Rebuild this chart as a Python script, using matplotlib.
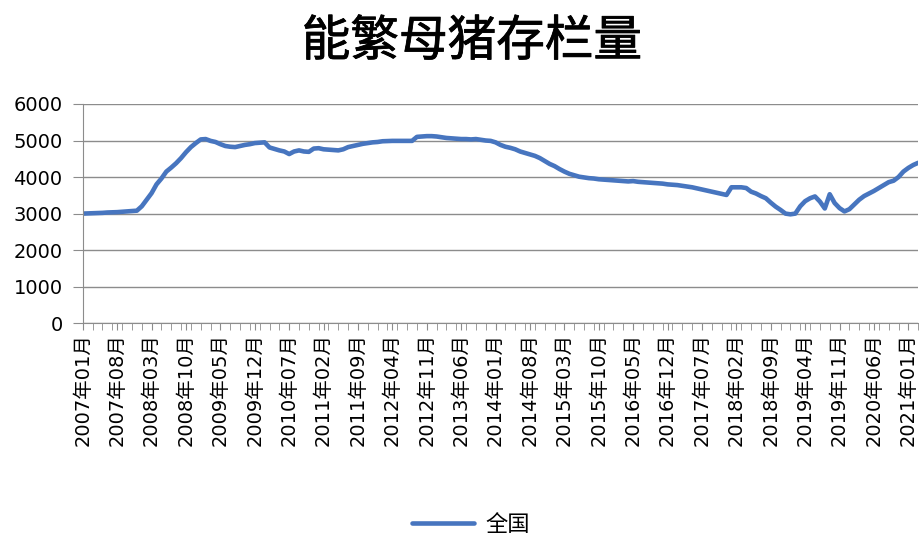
import matplotlib.pyplot as plt
import matplotlib.patheffects as pe
from matplotlib.ticker import MultipleLocator

plt.rcParams['font.family'] = ['DejaVu Sans', 'Noto Sans CJK SC']

# 月份标签 2007年01月 ... 2021年03月
years = list(range(2007, 2022))
months = [f'{y}年{m:02d}月' for y in years for m in range(1, 13)][:171]

# 能繁母猪存栏量(全国), 按年分组
v2007 = [3000, 3005, 3010, 3015, 3020, 3030, 3035, 3040, 3050, 3060, 3070, 3080]
v2008 = [3200, 3380, 3560, 3800, 3960, 4150, 4260, 4380, 4520, 4680, 4820, 4930]
v2009 = [5030, 5040, 4990, 4960, 4900, 4850, 4830, 4820, 4850, 4880, 4900, 4930]
v2010 = [4940, 4950, 4810, 4770, 4730, 4700, 4630, 4700, 4730, 4700, 4690, 4780]
v2011 = [4790, 4760, 4750, 4740, 4730, 4760, 4820, 4850, 4880, 4910, 4930, 4950]
v2012 = [4960, 4980, 4985, 4990, 4990, 4990, 4990, 4990, 5100, 5110, 5120, 5120]
v2013 = [5110, 5090, 5070, 5060, 5050, 5040, 5040, 5030, 5040, 5020, 5000, 4990]
v2014 = [4950, 4880, 4830, 4800, 4760, 4700, 4660, 4620, 4580, 4520, 4440, 4360]
v2015 = [4300, 4220, 4150, 4090, 4050, 4010, 3990, 3970, 3960, 3940, 3930, 3920]
v2016 = [3910, 3900, 3890, 3880, 3890, 3870, 3860, 3850, 3840, 3830, 3820, 3800]
v2017 = [3790, 3780, 3760, 3740, 3720, 3690, 3660, 3630, 3600, 3570, 3540, 3510]
v2018 = [3720, 3720, 3720, 3700, 3600, 3550, 3480, 3420, 3300, 3190, 3100, 3000]
v2019 = [2980, 3000, 3200, 3340, 3420, 3470, 3330, 3140, 3530, 3290, 3150, 3060]
v2020 = [3120, 3250, 3380, 3480, 3550, 3620, 3700, 3780, 3860, 3900, 4000, 4150]
v2021 = [4250, 4330, 4390]

values = (v2007 + v2008 + v2009 + v2010 + v2011 + v2012 + v2013 + v2014
          + v2015 + v2016 + v2017 + v2018 + v2019 + v2020 + v2021)

fig = plt.figure(figsize=(9.2, 5.36), dpi=100)
ax = fig.add_axes([0.09, 0.397, 0.908, 0.409])

x = list(range(len(values)))
ax.plot(x, values, color='#4775bf', linewidth=3.3, label='全国',
        solid_joinstyle='round', solid_capstyle='round')

ax.set_xlim(0, len(values) - 1)
ax.set_ylim(0, 6000)
ax.set_yticks(range(0, 6001, 1000))
ax.yaxis.grid(True, color='#8c8c8c', linewidth=1)
ax.set_axisbelow(True)

label_pos = list(range(0, len(values), 7))
ax.set_xticks(label_pos)
ax.set_xticklabels([months[i] for i in label_pos], rotation=90, fontsize=14)
ax.xaxis.set_minor_locator(MultipleLocator(2))
ax.tick_params(axis='x', which='both', length=5, color='#8c8c8c', pad=2)
ax.tick_params(axis='y', length=7.5, color='#8c8c8c', labelsize=14, pad=7)

for side in ['top', 'right']:
    ax.spines[side].set_visible(False)
ax.spines['left'].set_color('#8c8c8c')
ax.spines['bottom'].set_color('#8c8c8c')

title = fig.text(0.513, 0.922, '能繁母猪存栏量', ha='center', va='center',
                 fontsize=35, family='Noto Sans CJK SC')
title.set_path_effects([pe.withStroke(linewidth=0.6, foreground='black')])

fig.legend(loc='center', bbox_to_anchor=(0.512, 0.022), frameon=False,
           prop={'family': 'Noto Sans CJK SC', 'size': 16},
           handlelength=2.8, handletextpad=0.5)

fig.savefig('out.png', dpi=100)
